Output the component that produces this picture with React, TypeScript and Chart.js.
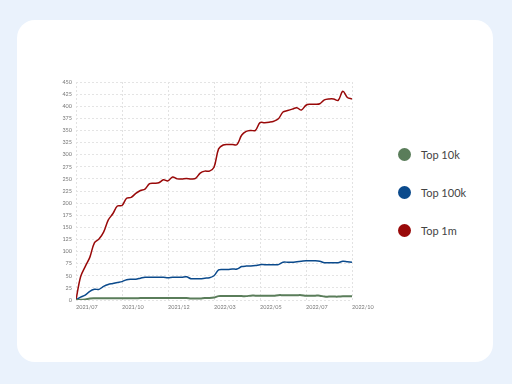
import React, { useEffect, useRef } from "react";
import { Chart, registerables } from "chart.js";

Chart.register(...registerables);

const xTickLabels = ["2021/07", "2021/10", "2021/12", "2022/03", "2022/05", "2022/07", "2022/10"];
const seriesNames = ["Top 10k", "Top 100k", "Top 1m"];
const seriesColors = ["#5a7d5a", "#0b4a8c", "#990909"];

const top1m = [0, 48, 69, 88, 118, 126, 140, 165, 178, 194, 195, 210, 212, 220, 226, 229, 240, 241, 242, 248, 246, 254, 250, 250, 251, 250, 251, 262, 266, 266, 274, 312, 320, 321, 321, 321, 340, 348, 350, 350, 366, 366, 367, 369, 374, 388, 391, 394, 397, 392, 402, 404, 404, 405, 413, 415, 415, 412, 431, 418, 415];
const top100k = [0, 6, 10, 18, 22, 22, 28, 32, 34, 36, 38, 42, 43, 43, 45, 47, 47, 47, 47, 47, 46, 47, 47, 47, 48, 44, 44, 44, 45, 46, 50, 62, 63, 63, 64, 64, 69, 70, 70, 71, 73, 73, 73, 73, 73, 78, 78, 78, 79, 80, 81, 81, 81, 80, 77, 77, 77, 77, 80, 79, 78];
const top10k = [0, 0.5, 1, 3, 3.5, 3.5, 3.5, 3.5, 3.5, 3.5, 3.5, 3.5, 3.5, 3.5, 4, 4, 4, 4, 4, 4, 4, 4, 4, 4, 4, 3, 3, 3, 4, 4, 5, 8, 8, 8, 8, 8, 8, 8, 9, 9, 9, 9, 9, 9, 10, 10, 10, 10, 10, 10, 9, 9, 9, 9, 7, 7, 7, 7, 7.5, 7.5, 7.5];

const toPoints = (arr: number[]) => arr.map((v, i) => ({ x: i, y: v }));

export default function App() {
  const ref = useRef<HTMLCanvasElement | null>(null);
  useEffect(() => {
    document.body.style.margin = "0";
    if (!ref.current) return;
    const tickFont = { family: "Lato", size: 5.5 };
    const chart = new Chart(ref.current, {
      type: "line",
      data: {
        datasets: [top10k, top100k, top1m].map((d, k) => ({
          label: seriesNames[k],
          data: toPoints(d),
          borderColor: seriesColors[k],
          backgroundColor: seriesColors[k],
          borderWidth: k === 0 ? 2 : 1.5,
          pointRadius: 0,
          tension: 0.35,
          fill: false,
        })),
      },
      options: {
        animation: false,
        responsive: false,
        maintainAspectRatio: false,
        layout: { padding: { left: 6, top: 12, right: 34, bottom: 0 } },
        plugins: { legend: { display: false }, tooltip: { enabled: false } },
        scales: {
          x: {
            type: "linear",
            min: 0,
            max: 60,
            afterFit: (s: any) => { s.height = 20; },
            ticks: {
              stepSize: 10,
              align: "start",
              maxRotation: 0,
              padding: 4,
              color: "#777",
              font: tickFont,
              callback: (v: any) => xTickLabels[Math.round(Number(v) / 10)] ?? "",
            },
            grid: { color: "#e2e2e2", drawTicks: false },
            border: { display: false, dash: [2, 2] },
          },
          y: {
            min: 0,
            max: 450,
            afterFit: (s: any) => { s.width = 20; },
            ticks: { stepSize: 25, padding: 4, color: "#777", font: tickFont },
            grid: { color: "#e4e4e4", drawTicks: false },
            border: { display: false, dash: [2, 2] },
          },
        },
      },
    } as any);
    return () => chart.destroy();
  }, []);

  return (
    <div style={{ position: "fixed", left: 0, top: 0, width: 512, height: 384, background: "#eaf2fc", overflow: "hidden" }}>
      <div style={{ position: "absolute", left: 17, top: 20, width: 476, height: 342, background: "#fff", borderRadius: 18 }} />
      <canvas ref={ref} width={336} height={250} style={{ position: "absolute", left: 50, top: 70, width: 336, height: 250 }} />
      <div style={{ position: "absolute", left: 398, top: 145, fontFamily: "Lato", fontSize: 11, color: "#444" }}>
        {seriesNames.map((n, k) => (
          <div key={n} style={{ display: "flex", alignItems: "center", height: 18, marginBottom: 20 }}>
            <span style={{ width: 13, height: 13, borderRadius: "50%", background: seriesColors[k], display: "inline-block", marginRight: 10 }} />
            <span>{n}</span>
          </div>
        ))}
      </div>
    </div>
  );
}
